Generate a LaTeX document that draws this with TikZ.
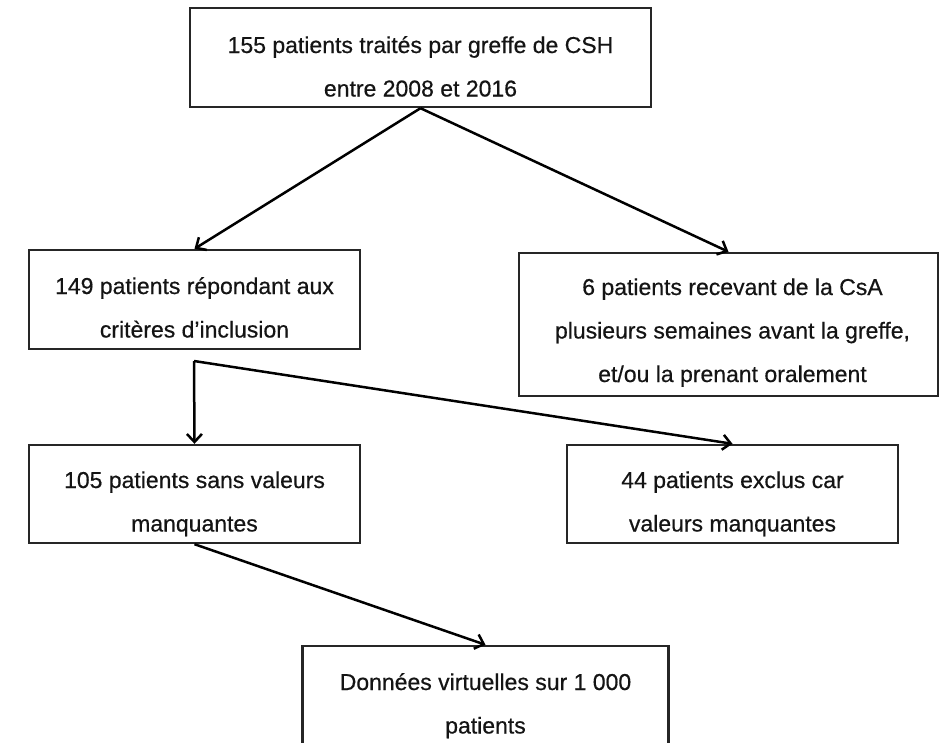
\documentclass[tikz,border=0pt]{standalone}
\usepackage{fontspec}
\setmainfont{Liberation Sans}[FakeBold=0.5]
\usetikzlibrary{arrows.meta}
\begin{document}
\begin{tikzpicture}[x=1pt,y=-1pt,
  box/.style={draw=black!85, line width=2.4pt, rectangle, inner sep=0pt},
  txt/.style={anchor=base, inner sep=0pt, text=black!92, font=\fontsize{23}{43.5}\selectfont},
  arr/.style={draw=black, line width=2.5pt, -{Straight Barb[length=8pt,width=15pt,line width=2.5pt]}},
  ]
\clip (0,0) rectangle (940,742);
\fill[white] (0,0) rectangle (940,742);
% boxes
\node[box, minimum width=461pt, minimum height=99pt] (b1) at (420.5,57.5) {};
\node[box, minimum width=331pt, minimum height=99pt] (b2) at (194.5,299.5) {};
\node[box, minimum width=419pt, minimum height=143pt] (b3) at (728.5,324.5) {};
\node[box, minimum width=331pt, minimum height=98pt] (b4) at (194.5,494) {};
\node[box, minimum width=331pt, minimum height=98pt] (b5) at (732.5,494) {};
\node[box, minimum width=366pt, minimum height=99pt] (b6) at (485.5,695.5) {};
% texts
\node[txt] (t1) at (420.5,53) {\begin{tabular}[t]{@{}c@{}}155 patients traités par greffe de CSH\\entre 2008 et 2016\end{tabular}};
\node[txt] (t2) at (194.5,294) {\begin{tabular}[t]{@{}c@{}}149 patients répondant aux\\critères d’inclusion\end{tabular}};
\node[txt] (t3) at (732.5,295) {\begin{tabular}[t]{@{}c@{}}6 patients recevant de la CsA\\plusieurs semaines avant la greffe,\\et/ou la prenant oralement\end{tabular}};
\node[txt] (t4) at (194.5,488) {\begin{tabular}[t]{@{}c@{}}105 patients sans valeurs\\manquantes\end{tabular}};
\node[txt] (t5) at (732.5,488) {\begin{tabular}[t]{@{}c@{}}44 patients exclus car\\valeurs manquantes\end{tabular}};
\node[txt] (t6) at (485.5,690) {\begin{tabular}[t]{@{}c@{}}Données virtuelles sur 1 000\\patients\end{tabular}};
% connectors
\coordinate (j) at (194,361);
\draw[arr] (b1.south) -- (b2.north);
\draw[arr] (b1.south) -- (b3.north);
\draw[arr] (j) -- (b4.north);
\draw[arr] (j) -- (b5.north);
\draw[arr] (b4.south) -- (b6.north);
\end{tikzpicture}
\end{document}
